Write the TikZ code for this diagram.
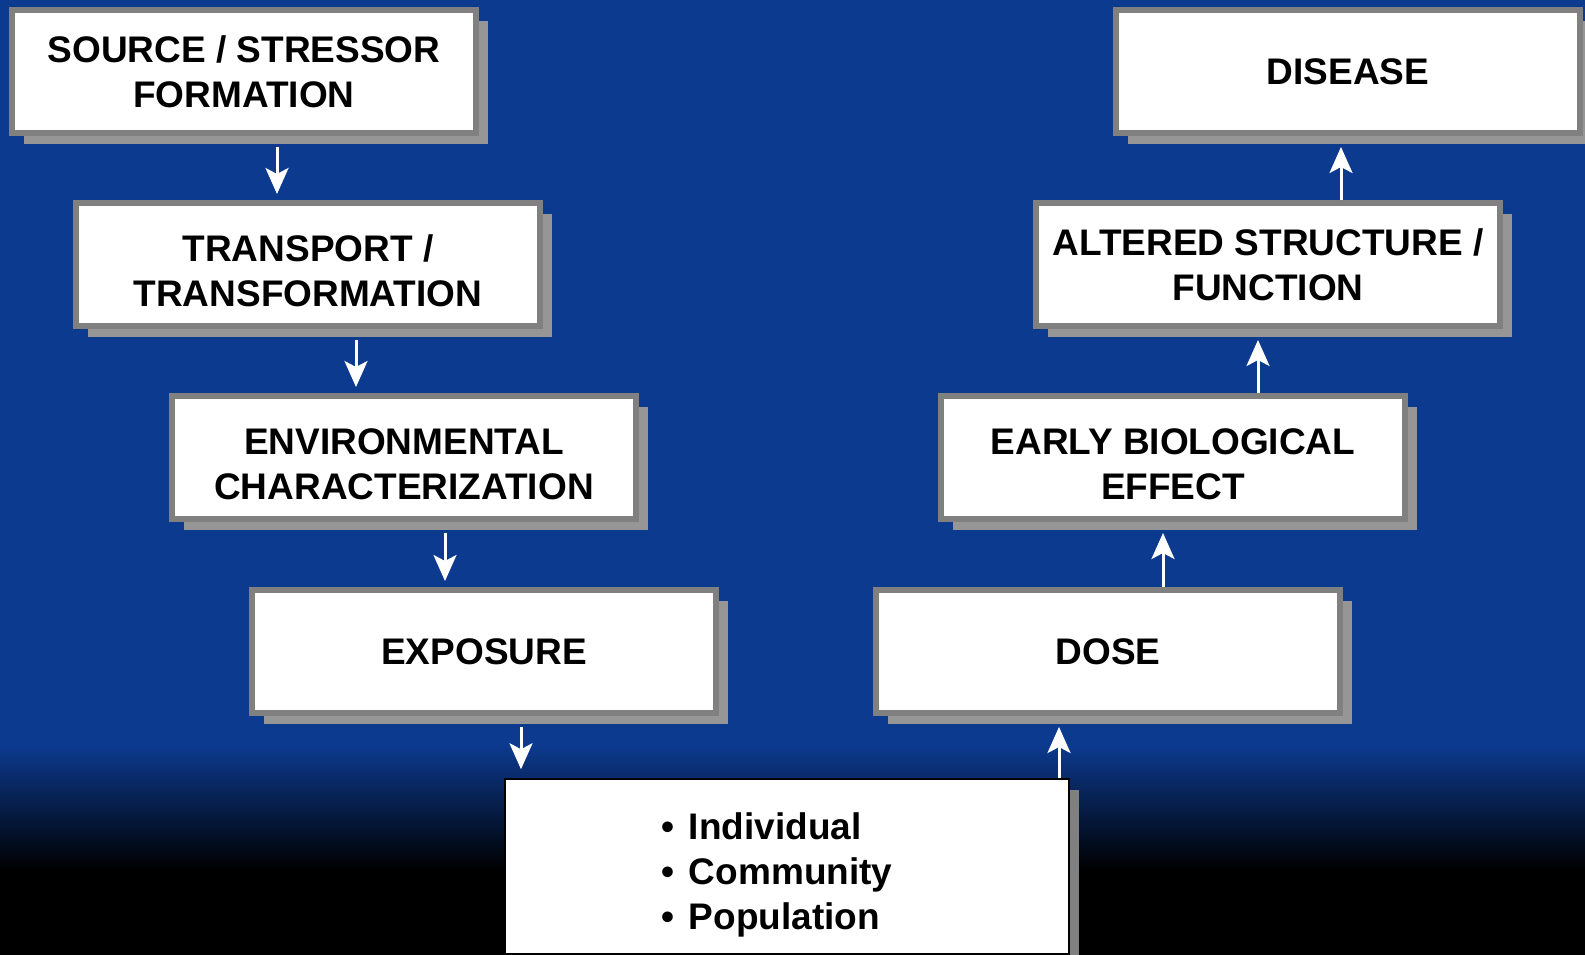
\documentclass[tikz,border=0pt]{standalone}
\usepackage{fontspec}
\setmainfont{Liberation Sans}
\usetikzlibrary{arrows.meta,shadows}
\definecolor{slideblue}{RGB}{12,58,143}
\definecolor{framegray}{RGB}{128,128,128}
\definecolor{shadegray}{RGB}{150,150,150}
\tikzset{
    stage/.style={draw=framegray, line width=6pt, fill=white, inner sep=0pt,
        minimum width=464pt, minimum height=123pt, align=center,
        font=\bfseries\fontsize{37}{45}\selectfont,
        drop shadow={shadow xshift=12pt, shadow yshift=-11pt, fill=shadegray, opacity=1}},
    lowered/.style={text height=84pt},
    flow/.style={draw=white, line width=3pt, -{Stealth[length=26pt,width=23pt,inset=6pt]}}
}
\begin{document}
\begin{tikzpicture}[x=1pt, y=-1pt]
            \useasboundingbox (0, 0) rectangle (1585, 955);
            %background
            \fill[slideblue] (0, 0) rectangle (1585, 955);
            \shade[top color=slideblue, bottom color=black] (0, 745) rectangle (1585, 870);
            \fill[black] (0, 870) rectangle (1585, 955);
            %left column
            \node[stage] (source) at (244, 71.5) {SOURCE / STRESSOR\\FORMATION};
            \node[stage, lowered] (transport) at (308, 264.5) {TRANSPORT /\\TRANSFORMATION};
            \node[stage, lowered] (envchar) at (404, 457.5) {ENVIRONMENTAL\\CHARACTERIZATION};
            \node[stage] (exposure) at (484, 651.5) {EXPOSURE};
            %right column
            \node[stage] (dose) at (1108, 651.5) {DOSE};
            \node[stage, lowered] (effect) at (1173, 457.5) {EARLY BIOLOGICAL\\EFFECT};
            \node[stage] (altered) at (1268, 264.5) {ALTERED STRUCTURE /\\FUNCTION};
            \node[stage] (disease) at (1348, 71.5) {DISEASE};
            %receptor
            \node[draw=black, line width=1.5pt, fill=white, inner sep=0pt,
                minimum width=564pt, minimum height=175pt, align=left, text width=252pt,
                text height=44pt, font=\bfseries\fontsize{37}{45}\selectfont,
                drop shadow={shadow xshift=10pt, shadow yshift=-11pt, fill=framegray, opacity=1}]
                (receptor) at (787, 866.5) {•\hspace{15pt}Individual\\•\hspace{15pt}Community\\•\hspace{15pt}Population};
            \draw[flow, shorten <=11pt, shorten >=6pt] ([xshift=33pt]source.south) -- ([xshift=-31pt]transport.north);
            \draw[flow, shorten <=11pt, shorten >=6pt] ([xshift=48pt]transport.south) -- ([xshift=-48pt]envchar.north);
            \draw[flow, shorten <=11pt, shorten >=6pt] ([xshift=41pt]envchar.south) -- ([xshift=-39pt]exposure.north);
            \draw[flow, shorten <=11pt, shorten >=9pt] ([xshift=37pt]exposure.south) -- ([xshift=-266pt]receptor.north);
            \draw[flow, shorten >=11pt] ([xshift=272pt]receptor.north) -- ([xshift=-49pt]dose.south);
            \draw[flow, shorten >=11pt] ([xshift=55pt]dose.north) -- ([xshift=-10pt]effect.south);
            \draw[flow, shorten >=11pt] ([xshift=85pt]effect.north) -- ([xshift=-10pt]altered.south);
            \draw[flow, shorten >=11pt] ([xshift=73pt]altered.north) -- ([xshift=-7pt]disease.south);
        \end{tikzpicture}
\end{document}
